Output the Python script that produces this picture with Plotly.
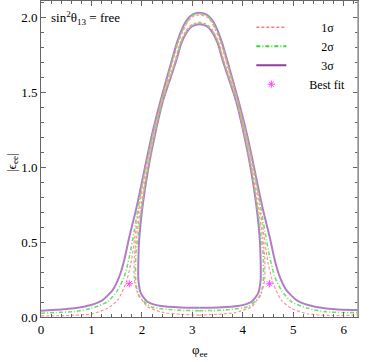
import plotly.graph_objects as go

# ---- data ----
# 3 sigma: outer boundary and inner closed loop
s3_outer_x = [0.00, 0.30, 0.66, 0.99, 1.22, 1.42, 1.55, 1.65, 1.75, 1.88, 1.98, 2.06, 2.20, 2.37, 2.59, 2.70, 2.80, 2.90, 3.00, 3.14,
              3.283, 3.383, 3.483, 3.583, 3.693, 3.913, 4.083, 4.223, 4.303, 4.403, 4.533, 4.633, 4.733, 4.863, 5.063, 5.293, 5.623, 5.983, 6.283]
s3_outer_y = [0.042, 0.048, 0.058, 0.080, 0.113, 0.180, 0.269, 0.380, 0.535, 0.713, 0.869, 1.000, 1.220, 1.447, 1.713, 1.840, 1.930, 1.990, 2.022, 2.035,
              2.022, 1.990, 1.930, 1.840, 1.713, 1.447, 1.220, 1.000, 0.869, 0.713, 0.535, 0.380, 0.269, 0.180, 0.113, 0.080, 0.058, 0.048, 0.047]
s3_inner_x = [3.14, 2.78, 2.38, 2.11, 1.98, 1.93, 1.93, 1.95, 2.02, 2.13, 2.26, 2.42, 2.68, 2.78, 2.90, 3.00, 3.14,
              3.283, 3.383, 3.503, 3.603, 3.863, 4.023, 4.153, 4.263, 4.333, 4.353, 4.353, 4.303, 4.173, 3.903, 3.503, 3.143]
s3_inner_y = [0.062, 0.064, 0.073, 0.102, 0.158, 0.247, 0.380, 0.535, 0.758, 1.000, 1.220, 1.447, 1.713, 1.830, 1.910, 1.945, 1.958,
              1.945, 1.910, 1.830, 1.713, 1.447, 1.220, 1.000, 0.758, 0.535, 0.380, 0.247, 0.158, 0.102, 0.073, 0.064, 0.062]

# 2 sigma
s2_outer_x = [0.00, 0.30, 0.66, 0.99, 1.32, 1.52, 1.65, 1.75, 1.85, 1.94, 2.00, 2.075, 2.215, 2.385, 2.605, 2.715, 2.815, 2.91, 3.00, 3.14,
              3.283, 3.373, 3.468, 3.568, 3.678, 3.898, 4.068, 4.208, 4.283, 4.343, 4.433, 4.533, 4.633, 4.763, 4.963, 5.293, 5.623, 5.983, 6.283]
s2_outer_y = [0.025, 0.030, 0.036, 0.058, 0.102, 0.180, 0.269, 0.400, 0.580, 0.760, 0.869, 1.000, 1.220, 1.447, 1.713, 1.840, 1.925, 1.983, 2.015, 2.028,
              2.015, 1.983, 1.925, 1.840, 1.713, 1.447, 1.220, 1.000, 0.869, 0.760, 0.580, 0.400, 0.269, 0.180, 0.102, 0.058, 0.036, 0.030, 0.029]
s2_inner_x = [3.14, 2.64, 2.18, 1.95, 1.88, 1.88, 1.92, 2.005, 2.118, 2.248, 2.408, 2.668, 2.768, 2.89, 2.995, 3.14,
              3.288, 3.393, 3.515, 3.615, 3.875, 4.035, 4.165, 4.278, 4.363, 4.403, 4.403, 4.333, 4.103, 3.643, 3.143]
s2_inner_y = [0.042, 0.047, 0.069, 0.136, 0.224, 0.424, 0.535, 0.758, 1.000, 1.220, 1.447, 1.713, 1.833, 1.915, 1.950, 1.965,
              1.950, 1.915, 1.833, 1.713, 1.447, 1.220, 1.000, 0.758, 0.535, 0.424, 0.224, 0.136, 0.069, 0.047, 0.042]

# 1 sigma
s1_outer_x = [0.00, 0.50, 0.99, 1.32, 1.52, 1.68, 1.78, 1.88, 1.96, 2.01, 2.085, 2.225, 2.395, 2.615, 2.725, 2.825, 2.915, 3.00, 3.14,
              3.283, 3.368, 3.458, 3.558, 3.668, 3.888, 4.058, 4.198, 4.273, 4.323, 4.403, 4.503, 4.603, 4.763, 4.963, 5.293, 5.783, 6.283]
s1_outer_y = [0.007, 0.010, 0.020, 0.058, 0.113, 0.224, 0.356, 0.580, 0.760, 0.869, 1.000, 1.220, 1.447, 1.713, 1.840, 1.920, 1.978, 2.008, 2.020,
              2.008, 1.978, 1.920, 1.840, 1.713, 1.447, 1.220, 1.000, 0.869, 0.760, 0.580, 0.356, 0.224, 0.113, 0.058, 0.020, 0.010, 0.013]
s1_inner_x = [3.14, 2.78, 2.44, 2.11, 1.92, 1.85, 1.85, 1.89, 1.99, 2.108, 2.238, 2.398, 2.658, 2.76, 2.885, 2.99, 3.14,
              3.293, 3.398, 3.523, 3.625, 3.885, 4.045, 4.175, 4.293, 4.393, 4.433, 4.433, 4.363, 4.173, 3.843, 3.503, 3.143]
s1_inner_y = [0.013, 0.018, 0.029, 0.069, 0.158, 0.247, 0.400, 0.535, 0.758, 1.000, 1.220, 1.447, 1.713, 1.836, 1.920, 1.955, 1.972,
              1.955, 1.920, 1.836, 1.713, 1.447, 1.220, 1.000, 0.758, 0.535, 0.400, 0.247, 0.158, 0.069, 0.029, 0.018, 0.013]

best_fit_x = [1.75, 4.53]
best_fit_y = [0.222, 0.222]

x_ticks = [0, 1, 2, 3, 4, 5, 6]
y_ticks = [0.0, 0.5, 1.0, 1.5, 2.0]
y_tick_labels = ["0.0", "0.5", "1.0", "1.5", "2.0"]

# ---- styles ----
C1 = "#ff9494"
C2 = "#6ce26c"
C3 = "#b57cc6"
SERIF = "Liberation Serif"

fig = go.Figure()

def contour(x, y, color, width, dash):
    fig.add_trace(go.Scatter(x=x, y=y, mode="lines", showlegend=False, hoverinfo="skip",
                             line=dict(color=color, width=width, dash=dash, shape="spline", smoothing=0.6)))

contour(s3_outer_x, s3_outer_y, C3, 2, "solid")
contour(s3_inner_x, s3_inner_y, C3, 2, "solid")
contour(s2_outer_x, s2_outer_y, C2, 1.6, "4px,2px,1px,2px")
contour(s2_inner_x, s2_inner_y, C2, 1.6, "4px,2px,1px,2px")
contour(s1_outer_x, s1_outer_y, C1, 1.2, "3px,2px")
contour(s1_inner_x, s1_inner_y, C1, 1.2, "3px,2px")

fig.add_trace(go.Scatter(x=best_fit_x, y=best_fit_y, mode="markers", showlegend=False, hoverinfo="skip",
                         marker=dict(symbol="asterisk-open", size=6, color="#ff44ff", line=dict(color="#ff44ff", width=1))))

# legend entries
pad = "\u2002" * 5
fig.add_trace(go.Scatter(x=[None], y=[None], mode="lines", name=pad + "1σ",
                         line=dict(color="#ff7a7a", width=1.5, dash="3px,2px")))
fig.add_trace(go.Scatter(x=[None], y=[None], mode="lines", name=pad + "2σ",
                         line=dict(color="#33dd33", width=2, dash="4px,2px,1px,2px")))
fig.add_trace(go.Scatter(x=[None], y=[None], mode="lines", name=pad + "3σ",
                         line=dict(color="#8e3f9c", width=2)))
fig.add_trace(go.Scatter(x=[None], y=[None], mode="markers", name="\u2002" * 3 + "Best fit",
                         marker=dict(symbol="asterisk-open", size=6, color="#ff44ff", line=dict(color="#ff44ff", width=1))))

axis_common = dict(showline=True, mirror="allticks", linecolor="#666", linewidth=1,
                   ticks="inside", ticklen=5, tickcolor="#666", tickwidth=1,
                   showgrid=False, zeroline=False, automargin=False,
                   tickfont=dict(family=SERIF, size=13, color="black"))

fig.update_xaxes(range=[0, 6.283], tickvals=x_ticks,
                 minor=dict(dtick=0.2, ticks="inside", ticklen=3, tickcolor="#666", showgrid=False),
                 **axis_common)
fig.update_yaxes(range=[0, 2.113], tickvals=y_ticks, ticktext=y_tick_labels,
                 minor=dict(dtick=0.1, ticks="inside", ticklen=3, tickcolor="#666", showgrid=False),
                 **axis_common)

# right frame edge is lighter in the reference
fig.add_shape(type="line", xref="paper", yref="paper", x0=1, x1=1, y0=0, y1=1,
              line=dict(color="#a0a0a0", width=1.6), layer="above")

# axis titles
fig.add_annotation(xref="paper", yref="paper", x=0.5, y=-0.105, xanchor="center", yanchor="middle",
                   text="φ<sub>ee</sub>", showarrow=False, font=dict(family=SERIF, size=13, color="black"))
fig.add_annotation(xref="paper", yref="paper", x=-0.092, y=0.49, xanchor="center", yanchor="middle",
                   text="|ϵ<sub>ee</sub>|", textangle=-90, showarrow=False,
                   font=dict(family=SERIF, size=13, color="black"))

fig.add_annotation(xref="paper", yref="paper", x=0.025, y=0.945, xanchor="left", yanchor="middle",
                   text="sin<sup>2</sup>θ<sub>13</sub> = free", showarrow=False,
                   font=dict(family=SERIF, size=13, color="black"))

fig.update_layout(
    width=382, height=362,
    margin=dict(l=41, r=24, t=1, b=45),
    plot_bgcolor="white", paper_bgcolor="white",
    legend=dict(x=0.6635, y=0.963, xanchor="left", yanchor="top", bgcolor="rgba(0,0,0,0)",
                font=dict(family=SERIF, size=12, color="black"), tracegroupgap=0, itemwidth=30),
)

fig.write_html("out.html", config={"displayModeBar": False},
               post_script="document.body.style.margin='0px';document.body.style.overflow='hidden';")
